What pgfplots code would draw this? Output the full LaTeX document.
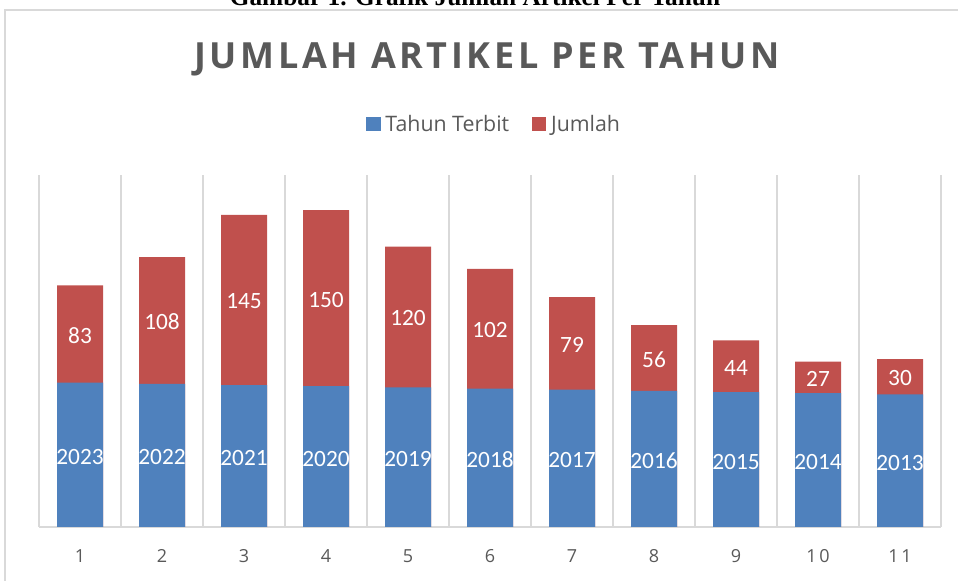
\documentclass[border=0pt]{standalone}
\usepackage{pgfplots}
\usepackage{pgfplotstable}
\pgfplotsset{compat=1.18}
\usepackage{fontspec}
\setmainfont{Carlito}
\newfontfamily\titlefont[LetterSpace=10]{Open Sans}
\newfontfamily\legfont{Open Sans}
\newfontfamily\tickfont[LetterSpace=15]{Open Sans}
\newfontfamily\capfont{Liberation Serif}
\definecolor{cblue}{HTML}{4F81BD}
\definecolor{cred}{HTML}{C0504D}
\definecolor{cgrid}{HTML}{D9D9D9}
\definecolor{ctext}{HTML}{595959}
\pgfplotstableread{
x year count
1 2023 83
2 2022 108
3 2021 145
4 2020 150
5 2019 120
6 2018 102
7 2017 79
8 2016 56
9 2015 44
10 2014 27
11 2013 30
}\datatable
\begin{document}
\begin{tikzpicture}
\path[use as bounding box] (0pt,0pt) rectangle (718.5pt,435.75pt);
\draw[cgrid, line width=1.2pt] (3.75pt,-10pt) rectangle (740pt,428.25pt);
\node[anchor=base, font=\capfont\bfseries\fontsize{19}{21}\selectfont] at (356.25pt,431.5pt) {Gambar 1. Grafik Jumlah Artikel Per Tahun};
\node[anchor=base, font=\titlefont\bfseries\fontsize{27}{30}\selectfont, text=ctext] at (365.25pt,384.5pt) {JUMLAH ARTIKEL PER TAHUN};
\begin{axis}[
  at={(29.25pt,40.5pt)}, anchor=south west,
  scale only axis, width=676.5pt, height=264pt,
  xmin=0.5, xmax=11.5, ymin=1900, ymax=2200,
  axis y line=none, axis x line*=bottom,
  x axis line style={cgrid, line width=1pt},
  xtick={1,...,11}, major tick length=0pt, minor tick length=0pt,
  minor xtick={0.5,1.5,...,11.5},
  xminorgrids=true, minor x grid style={cgrid, line width=1pt},
  ytick=\empty,
  xticklabel style={anchor=center, yshift=-21.75pt, font=\tickfont\fontsize{13.5}{15}\selectfont, text=ctext},
  /pgf/number format/1000 sep={},
  /pgf/number format/assume math mode=true,
  legend style={at={(0.505,1.145)}, anchor=center, draw=none, fill=none, legend columns=2,
    font=\legfont\fontsize{16}{18}\selectfont, text=ctext,
    /tikz/every even column/.append style={column sep=15pt}},
  clip=true,
]
% red segment: drawn up to the stack total, lower part covered by the blue segment
\addplot[ybar, bar width=34.5pt, bar shift=0pt, fill=cred, draw=none, forget plot]
  table[x=x, y expr=\thisrow{year}+\thisrow{count}] {\datatable};
\addplot[ybar, bar width=34.5pt, bar shift=0pt, fill=cblue, draw=none, forget plot]
  table[x=x, y=year] {\datatable};
% legend entries
\addlegendimage{legend image code/.code={\fill[cblue] (0pt,-5pt) rectangle (10pt,5pt); \path (12pt,0pt);}}
\addlegendentry{Tahun Terbit}
\addlegendimage{legend image code/.code={\fill[cred] (0pt,-5pt) rectangle (10pt,5pt); \path (12pt,0pt);}}
\addlegendentry{Jumlah}
% data labels
\addplot[draw=none, mark=none, forget plot, point meta=explicit,
  nodes near coords, nodes near coords align=center,
  every node near coord/.append style={anchor=center, yshift=-1.5pt, text=white, font=\fontsize{17.5}{19}\selectfont}]
  table[x=x, y expr=(\thisrow{year}+1900)/2, meta=year] {\datatable};
\addplot[draw=none, mark=none, forget plot, point meta=explicit,
  nodes near coords, nodes near coords align=center,
  every node near coord/.append style={anchor=center, yshift=-1pt, text=white, font=\fontsize{17.5}{19}\selectfont}]
  table[x=x, y expr=\thisrow{year}+\thisrow{count}/2, meta=count] {\datatable};
\end{axis}
\end{tikzpicture}
\end{document}
